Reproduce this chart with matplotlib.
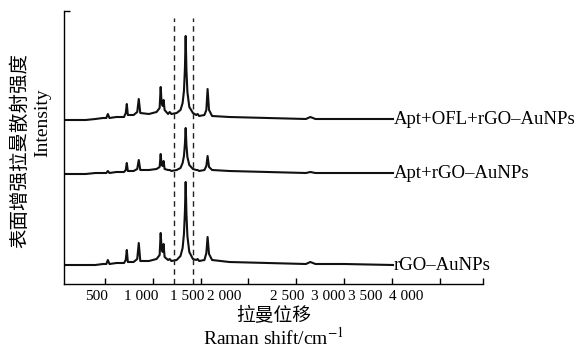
import matplotlib
matplotlib.use("Agg")
import matplotlib.pyplot as plt

plt.rcParams['font.family'] = ['Liberation Serif', 'DejaVu Serif']
plt.rcParams['mathtext.fontset'] = 'stix'

# traced Raman spectra (x in cm^-1, y in arbitrary stacked intensity)
shift = [75, 300, 400, 480, 515, 531, 548, 620, 700, 718,
         729, 740, 800, 838, 854, 870, 960, 1040, 1072, 1083,
         1092, 1104, 1113, 1124, 1160, 1177, 1195, 1250, 1290, 1312,
         1326, 1336, 1344, 1352, 1362, 1382, 1420, 1455, 1469, 1485,
         1540, 1560, 1573, 1588, 1620, 1800, 2200, 2600, 2646, 2700,
         3000, 3510]
apt_ofl = [164, 164, 165, 166, 166, 170, 166, 167, 167, 171,
           180, 169, 169, 172, 185, 171, 170, 172, 176, 197,
           182, 178, 184, 174, 170, 172, 170, 171, 174, 181,
           193, 215, 248, 214, 192, 177, 171, 169, 170, 168,
           169, 174, 195, 174, 168, 167, 166, 165, 167, 165,
           165, 165]
apt = [110, 110, 111, 111, 111, 113, 111, 112, 112, 114,
       121, 113, 113, 115, 124, 114, 114, 115, 117, 130,
       119, 118, 123, 115, 114, 114, 113, 114, 116, 121,
       128, 140, 156, 139, 127, 119, 115, 114, 114, 113,
       114, 118, 128, 117, 114, 113, 112, 111, 112, 111,
       111, 111]
rgo = [19, 19, 19, 20, 20, 24, 20, 21, 21, 24,
       34, 22, 22, 25, 41, 23, 23, 25, 29, 51,
       36, 32, 40, 27, 24, 25, 23, 24, 28, 36,
       50, 72, 102, 70, 48, 32, 25, 24, 25, 23,
       24, 31, 47, 30, 24, 22, 21, 20, 22, 20,
       20, 19]
series_names = ['Apt+OFL+rGO–AuNPs', 'Apt+rGO–AuNPs', 'rGO–AuNPs']
dashed_x = [1219, 1417]

tick_pos = [500, 1000, 1500, 2000, 2500, 3000, 3500, 4000, 4450]
label_pos = [417, 875, 1365, 1751, 2407, 2834, 3220, 3647]
tick_labels = ['500', '1 000', '1 500', '2 000', '2 500', '3 000', '3 500', '4 000']

fig = plt.figure(figsize=(5.77, 3.55), dpi=100)
ax = fig.add_axes([64 / 577, 71 / 355, 419 / 577, 273 / 355])

for ys, name in zip([apt_ofl, apt, rgo], series_names):
    ax.plot(shift, ys, color='#111111', lw=1.5, solid_joinstyle='round')
    ax.text(3515, ys[-1], name, fontsize=13.5, ha='left', va='center')

ax.vlines(dashed_x, 0, 266, colors='#222222', lw=1.0, linestyles=(0, (4, 3)))

ax.set_xlim(73, 4450)
ax.set_ylim(0, 273)

ax.spines['top'].set_visible(False)
ax.spines['right'].set_visible(False)
ax.spines['left'].set_linewidth(1.0)
ax.spines['bottom'].set_linewidth(1.0)

ax.set_xticks(tick_pos, labels=[''] * len(tick_pos))
ax.set_xticks(label_pos, labels=tick_labels, minor=True)
ax.tick_params(axis='x', which='major', direction='in', length=4, width=1)
ax.tick_params(axis='x', which='minor', length=0, labelsize=11, pad=4)
ax.set_yticks([273], labels=[''])
ax.tick_params(axis='y', direction='in', length=4, width=1)

cjk = ['Noto Sans CJK SC', 'DejaVu Sans']
fig.text(20 / 577, 1 - 150 / 355, '表面增强拉曼散射强度', family=cjk, fontsize=14,
         rotation=90, ha='center', va='center')
fig.text(43 / 577, 1 - 123 / 355, 'Intensity', fontsize=14,
         rotation=90, ha='center', va='center')
fig.text(274 / 577, 1 - 316 / 355, '拉曼位移', family=cjk, fontsize=13.5,
         ha='center', va='center')
fig.text(274 / 577, 1 - 338 / 355, 'Raman shift/cm$^{-1}$', fontsize=14,
         ha='center', va='center')

fig.savefig('out.png', dpi=100)
